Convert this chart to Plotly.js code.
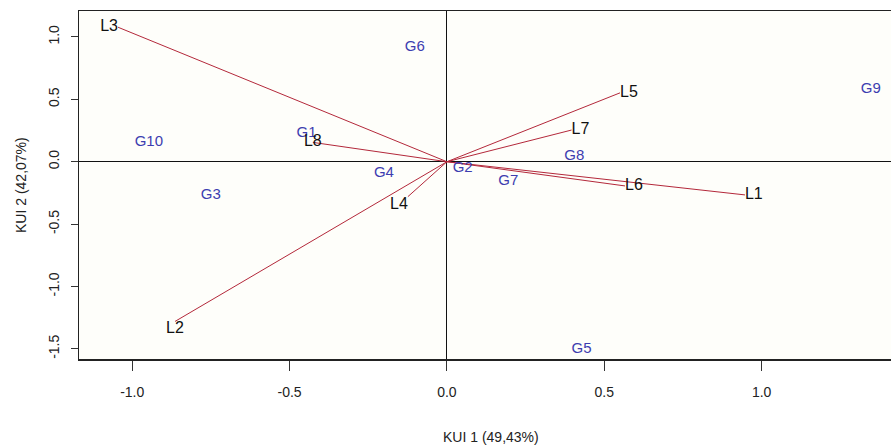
<!DOCTYPE html>
<html>
<head>
<meta charset="utf-8">
<script src="https://cdn.plot.ly/plotly-3.0.1.min.js"></script>
<style>html,body{margin:0;padding:0;background:#fff;}#chart{width:891px;height:447px;}</style>
</head>
<body>
<div id="chart"></div>
<script>
// Variable (L) vectors
const varLabels = ['L1','L2','L3','L4','L5','L6','L7','L8'];
const varX = [0.947, -0.864, -1.045, -0.124, 0.550, 0.566, 0.396, -0.426];
const varY = [-0.266, -1.280, 1.078, -0.280, 0.552, -0.194, 0.254, 0.155];
const varTextPos = ['middle right','bottom center','middle left','bottom left','middle right','middle right','middle right','middle center'];

// Genotype (G) scores
const genLabels = ['G1','G2','G3','G4','G5','G6','G7','G8','G9','G10'];
const genX = [-0.446, 0.050, -0.750, -0.200, 0.428, -0.102, 0.195, 0.405, 1.347, -0.947];
const genY = [0.232, -0.053, -0.266, -0.093, -1.500, 0.915, -0.160, 0.040, 0.579, 0.160];

const xTicks = [-1.0, -0.5, 0.0, 0.5, 1.0];
const yTicks = [-1.5, -1.0, -0.5, 0.0, 0.5, 1.0];
const xTitle = 'KUI 1 (49,43%)';
const yTitle = 'KUI 2 (42,07%)';

const segX = [], segY = [];
varX.forEach((v, i) => { segX.push(0, v, null); segY.push(0, varY[i], null); });

const FONT = 'Liberation Sans, Arial, sans-serif';

const traces = [
  {x: segX, y: segY, mode: 'lines', type: 'scatter', line: {color: '#b3283a', width: 1}, hoverinfo: 'skip', cliponaxis: false},
  {x: genX, y: genY, mode: 'text', type: 'scatter', text: genLabels, textposition: 'middle center',
   textfont: {family: FONT, size: 15, color: '#3d3db0'}, cliponaxis: false},
  {x: varX, y: varY, mode: 'text', type: 'scatter', text: varLabels, textposition: varTextPos,
   textfont: {family: FONT, size: 16, color: '#111111'}, cliponaxis: false}
];

const layout = {
  width: 891, height: 447,
  margin: {l: 79, r: 0, t: 11, b: 88},
  paper_bgcolor: '#ffffff',
  plot_bgcolor: '#fefefa',
  showlegend: false,
  font: {family: FONT, size: 14, color: '#222'},
  xaxis: {
    range: [-1.169, 1.411], tickvals: xTicks, ticktext: xTicks.map(v => v.toFixed(1)),
    ticks: 'outside', ticklen: 10, tickcolor: '#333', tickwidth: 1,
    showgrid: false, zeroline: true, zerolinecolor: '#111', zerolinewidth: 1,
    showline: true, linecolor: '#222', linewidth: 1.5, mirror: true,
    tickfont: {family: FONT, size: 14, color: '#222'}, ticklabelstandoff: 10
  },
  yaxis: {
    range: [-1.581, 1.208], tickvals: yTicks, ticktext: yTicks.map(v => v.toFixed(1)),
    ticks: 'outside', ticklen: 7, tickcolor: '#333', tickwidth: 1, tickangle: -90,
    showgrid: false, zeroline: true, zerolinecolor: '#111', zerolinewidth: 1,
    showline: true, linecolor: '#222', linewidth: 1.5, mirror: false,
    tickfont: {family: FONT, size: 14, color: '#222'}, ticklabelstandoff: 6
  },
  annotations: [
    {text: xTitle, xref: 'paper', yref: 'paper', x: (490.5 - 79) / 812, y: -(437 - 359) / 348,
     xanchor: 'center', yanchor: 'middle', showarrow: false, font: {family: FONT, size: 14, color: '#222'}},
    {text: yTitle, xref: 'paper', yref: 'paper', x: -(79 - 21) / 812, y: 0.5, textangle: -90,
     xanchor: 'center', yanchor: 'middle', showarrow: false, font: {family: FONT, size: 14, color: '#222'}}
  ]
};

Plotly.newPlot('chart', traces, layout, {staticPlot: true, displayModeBar: false});
</script>
</body>
</html>
